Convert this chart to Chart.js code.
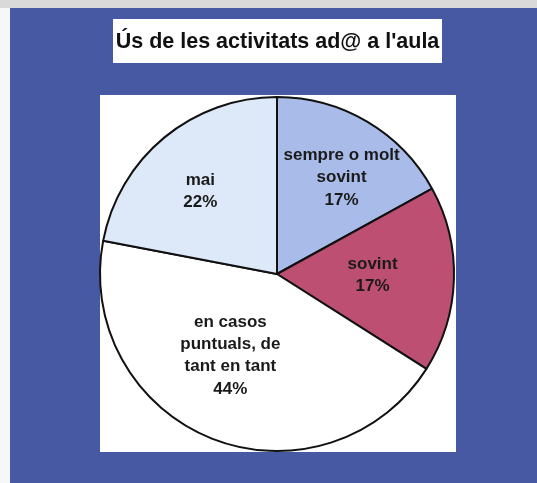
<!DOCTYPE html>
<html><head><meta charset="utf-8">
<script src="https://cdn.jsdelivr.net/npm/chart.js@4/dist/chart.umd.min.js"></script>
<style>html,body{margin:0;padding:0;background:#fff}#w{width:537px;height:483px;position:relative}</style>
</head><body><div id="w"><canvas id="c" width="537" height="483"></canvas></div>
<script>
const title = "Ús de les activitats ad@ a l'aula";
const categories = [["sempre o molt","sovint"], ["sovint"], ["en casos","puntuals, de","tant en tant"], ["mai"]];
const values = [17, 17, 44, 22];
const percentLabels = ["17%", "17%", "44%", "22%"];
const colors = ["#a9bbe9", "#bd4f72", "#ffffff", "#dde9f8"];
// label placement per slice: [angle offset deg, radius fraction]
const labelPlace = [[3.2, 0.656], [-1.2, 0.54], [8.2, 0.53], [-3.3, 0.636]];

const bgPlugin = {
  id: 'bg',
  beforeDraw(chart) {
    const ctx = chart.ctx;
    ctx.save();
    ctx.fillStyle = '#f7f7f7';
    ctx.fillRect(0, 0, 537, 483);
    ctx.fillStyle = '#d9d9d9';
    ctx.fillRect(0, 0, 537, 8);
    ctx.fillStyle = '#4759a3';
    ctx.fillRect(10, 8, 527, 475);
    ctx.fillStyle = '#ffffff';
    ctx.fillRect(100, 95, 356, 357);
    // title box
    ctx.fillRect(113, 19, 329, 44);
    ctx.fillStyle = '#111';
    ctx.font = 'bold 21.5px "Liberation Sans", Arial, sans-serif';
    ctx.textAlign = 'center';
    ctx.textBaseline = 'middle';
    ctx.fillText(title, 277.5, 42);
    ctx.restore();
  },
  afterDatasetsDraw(chart) {
    const ctx = chart.ctx;
    const meta = chart.getDatasetMeta(0);
    ctx.save();
    ctx.fillStyle = '#1a1a1a';
    ctx.font = 'bold 17px "Liberation Sans", Arial, sans-serif';
    ctx.textAlign = 'center';
    ctx.textBaseline = 'middle';
    meta.data.forEach((arc, i) => {
      const p = arc.getProps(['x','y','startAngle','endAngle','outerRadius'], true);
      const a = (p.startAngle + p.endAngle) / 2 + labelPlace[i][0] * Math.PI / 180;
      const r = p.outerRadius * labelPlace[i][1];
      const cx = p.x + Math.cos(a) * r;
      const cy = p.y + Math.sin(a) * r;
      const lines = categories[i].concat([percentLabels[i]]);
      const lh = 22.3;
      const y0 = cy - (lines.length - 1) * lh / 2;
      lines.forEach((t, k) => ctx.fillText(t, cx, y0 + k * lh));
    });
    ctx.restore();
  }
};

new Chart(document.getElementById('c'), {
  type: 'pie',
  data: {
    labels: categories.map(c => c.join(' ')),
    datasets: [{
      data: values,
      backgroundColor: colors,
      borderColor: '#111',
      borderWidth: 2,
      hoverOffset: 0
    }]
  },
  options: {
    responsive: false,
    animation: false,
    events: [],
    layout: { padding: { left: 99, right: 82, top: 96, bottom: 31 } },
    plugins: { legend: { display: false }, tooltip: { enabled: false }, title: { display: false } }
  },
  plugins: [bgPlugin]
});
</script>
</body></html>
